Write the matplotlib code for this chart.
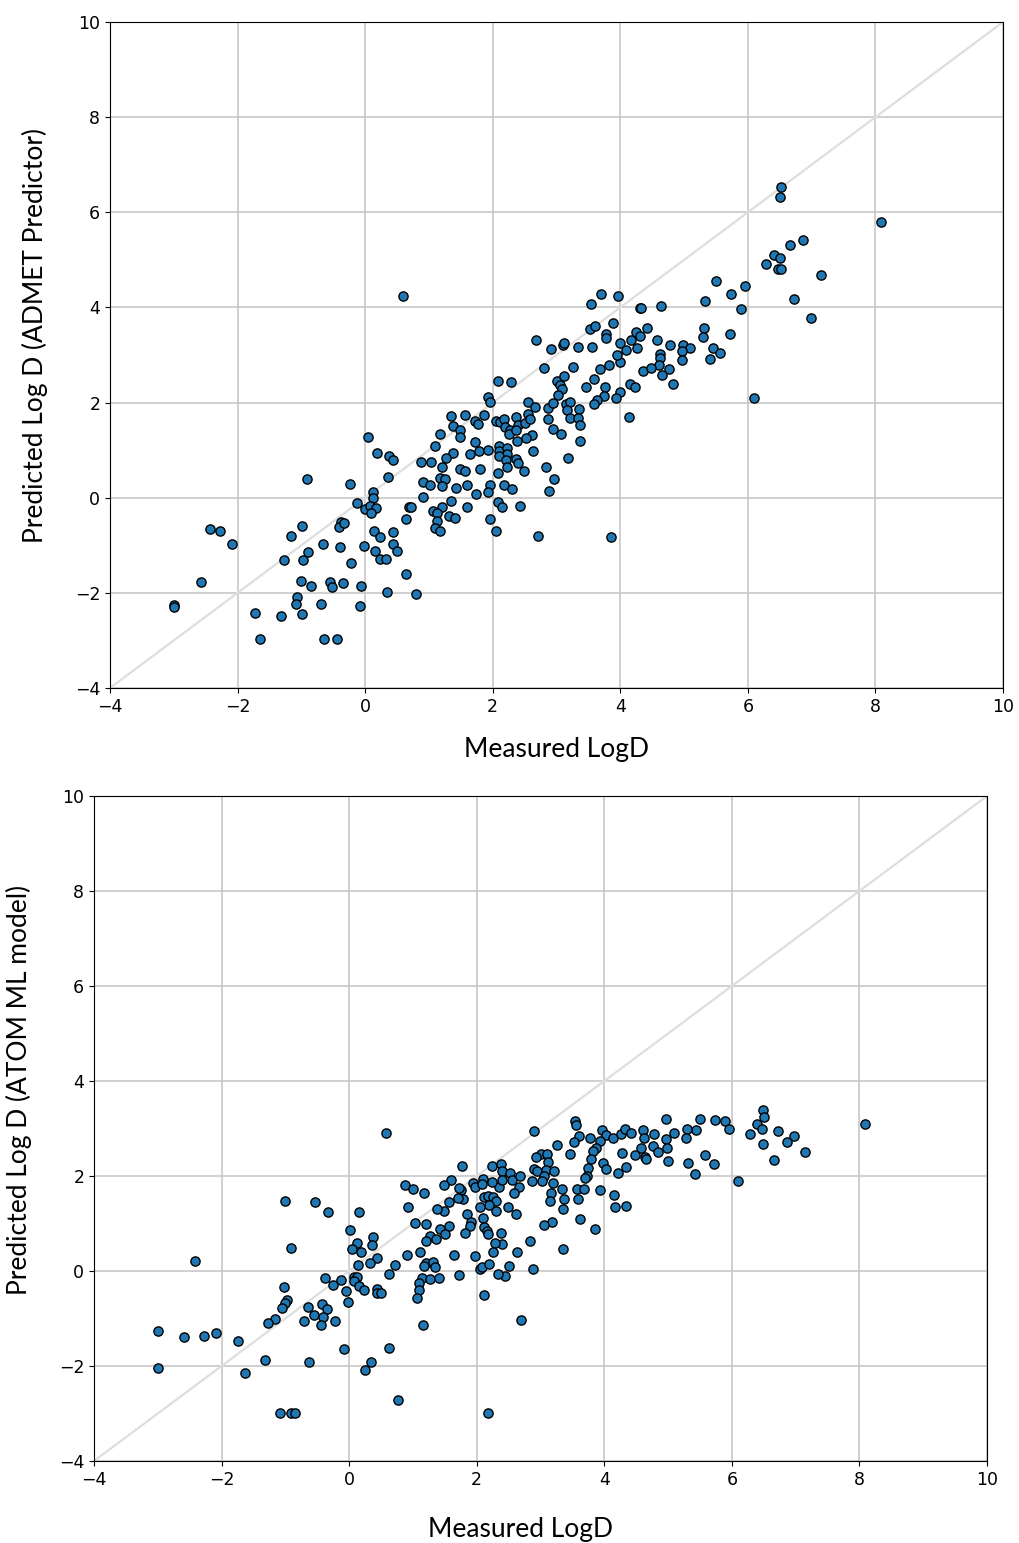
import numpy as np
import matplotlib.pyplot as plt

# Measured vs predicted LogD, ADMET Predictor
admet_measured = [
    0.05, 0.19, 0.37, 0.44, -0.91, -0.24, 0.36, 0.13, 0.13, -0.13, 0.00, 0.07, 0.17, 0.09,
    0.69, 0.64, -2.43, -2.27, -2.08, -0.99, -1.16, -0.38, -0.41, -0.33, -0.66, -0.90, -0.98,
    -1.27, -0.40, -0.02, 0.14, 0.23, 0.43, 0.43, 0.50, 0.16, 0.24, 0.33, -0.22, 0.64, -2.58,
    -1.01, -0.85, -0.55, -0.52, -0.35, -0.06, 0.34, -1.07, -1.09, -0.99, -0.69, -0.08, -3.00,
    -3.00, -1.73, -1.32, -1.65, -0.64, -0.44, 0.79,
    2.81, 3.26, 2.08, 2.29, 3.00, 3.11, 3.06, 3.09, 3.02, 3.46, 3.59, 3.68, 3.83, 3.99, 3.76,
    3.75, 3.63, 3.59, 4.00, 3.93, 4.15, 4.23, 4.35, 4.14, 1.93, 1.95, 2.56, 2.67, 2.87, 2.94,
    3.15, 3.21, 3.16, 3.36, 3.21, 3.34, 3.37, 3.37, 2.87, 2.94, 3.07, 3.18, 2.83, 2.96, 2.89,
    2.71, 3.85, 1.35, 1.57, 1.38, 1.49, 1.49, 1.17, 1.10, 1.73, 1.77, 1.86, 2.05, 2.11, 2.18,
    2.20, 2.27, 2.25, 2.37, 2.39, 2.36, 2.51, 2.56, 2.59, 2.62, 2.52, 2.38, 1.72, 1.64, 1.78,
    1.92, 1.38, 1.26, 1.20, 0.88, 1.04, 2.10, 2.10, 2.22, 2.23, 2.10, 2.21, 2.37, 2.39, 2.23,
    2.49, 2.63, 2.08, 1.49, 1.57, 1.80, 1.17, 1.25, 1.20, 0.90, 1.01, 1.42, 1.59, 1.95, 1.92,
    1.74, 2.18, 2.31, 0.91, 0.72, 1.35, 1.21, 1.06, 1.12, 1.32, 1.41, 1.12, 1.10, 1.17, 1.60,
    2.08, 2.15, 2.43, 1.96, 2.05,
    0.59, 3.54, 3.70, 3.97, 4.31, 3.53, 3.61, 3.88, 3.77, 3.77, 2.68, 2.91, 3.10, 3.12, 3.34,
    3.55, 4.00, 4.17, 4.25, 4.09, 4.26, 3.95,
    6.52, 6.50, 8.09, 6.66, 6.87, 6.41, 6.51, 6.28, 6.48, 6.52, 7.15, 5.50, 5.96, 5.74, 6.73,
    5.33, 4.33, 4.64, 5.89, 6.99, 5.31, 5.29, 5.72, 4.42, 4.31, 4.57, 4.78, 4.98, 5.09, 4.96,
    4.62, 4.63, 4.60, 4.96, 5.45, 5.57, 5.41, 4.48, 4.76, 4.65, 4.83, 6.10,
]
admet_predicted = [
    1.27, 0.95, 0.88, 0.79, 0.39, 0.29, 0.44, 0.11, 0.00, -0.12, -0.24, -0.17, -0.22, -0.33,
    -0.19, -0.45, -0.65, -0.71, -0.97, -0.60, -0.80, -0.50, -0.61, -0.54, -0.97, -1.14, -1.31,
    -1.31, -1.04, -1.02, -0.69, -0.82, -0.72, -0.98, -1.11, -1.11, -1.29, -1.29, -1.38, -1.60,
    -1.77, -1.75, -1.86, -1.77, -1.87, -1.79, -1.86, -1.99, -2.08, -2.24, -2.44, -2.23, -2.28,
    -2.25, -2.30, -2.42, -2.48, -2.98, -2.98, -2.98, -2.03,
    2.72, 2.75, 2.45, 2.43, 2.46, 2.56, 2.37, 2.28, 2.16, 2.33, 2.50, 2.70, 2.78, 2.86, 2.32,
    2.14, 2.05, 1.98, 2.22, 2.09, 2.40, 2.32, 2.67, 1.70, 2.11, 2.01, 2.01, 1.90, 1.89, 2.00,
    1.98, 2.02, 1.84, 1.86, 1.68, 1.68, 1.53, 1.20, 1.65, 1.45, 1.34, 0.83, 0.65, 0.39, 0.15,
    -0.80, -0.82, 1.72, 1.73, 1.51, 1.43, 1.28, 1.34, 1.09, 1.61, 1.56, 1.73, 1.61, 1.59, 1.65,
    1.48, 1.42, 1.34, 1.70, 1.53, 1.42, 1.58, 1.76, 1.66, 1.32, 1.25, 1.19, 1.17, 0.92, 0.99,
    1.00, 0.95, 0.83, 0.65, 0.76, 0.76, 1.09, 0.99, 1.05, 0.92, 0.88, 0.79, 0.81, 0.74, 0.65,
    0.57, 0.98, 0.51, 0.60, 0.57, 0.60, 0.41, 0.40, 0.25, 0.34, 0.27, 0.20, 0.27, 0.27, 0.13,
    0.08, 0.27, 0.18, 0.01, -0.19, -0.07, -0.19, -0.27, -0.32, -0.38, -0.43, -0.49, -0.64, -0.71,
    -0.19, -0.10, -0.19, -0.17, -0.45, -0.71,
    4.25, 4.07, 4.28, 4.25, 3.98, 3.55, 3.62, 3.67, 3.45, 3.36, 3.31, 3.13, 3.20, 3.25, 3.16,
    3.16, 3.26, 3.32, 3.49, 3.10, 3.15, 3.01,
    6.53, 6.33, 5.80, 5.31, 5.41, 5.10, 5.04, 4.91, 4.80, 4.80, 4.68, 4.56, 4.46, 4.28, 4.18,
    4.13, 3.98, 4.03, 3.96, 3.78, 3.57, 3.38, 3.45, 3.57, 3.39, 3.32, 3.21, 3.22, 3.15, 3.08,
    3.02, 2.93, 2.79, 2.89, 3.15, 3.04, 2.91, 2.72, 2.71, 2.58, 2.38, 2.09,
]

# Measured vs predicted LogD, ATOM ML model
atom_measured = [
    0.57, -1.01, -0.53, -0.33, 0.16, -0.91, -2.42, 0.01, 0.38, 0.36, 0.12, 0.05, 0.19, 0.44,
    0.32, 0.14, 0.63, -0.38, -0.13, -0.25, 0.07, 0.13, 0.08, 0.15, 0.23, 0.43, 0.44, 0.50,
    -0.05, -0.02, -1.02, -0.98, -1.00, -1.06, -1.16, -1.27, -0.65, -0.43, -0.34, -0.55, -0.41,
    -0.70, -0.44, -0.22, -3.00, -2.59, -2.28, -2.08, -1.75, -0.08, 0.63, -1.32, -0.63, -3.00,
    -1.64, 0.34, 0.25, -1.08, -0.91, -0.85, 0.77, 2.17,
    2.90, 3.54, 3.56, 3.61, 3.53, 3.77, 3.97, 4.02, 3.94, 4.14, 4.26, 4.33, 3.26, 3.87, 3.82,
    3.79, 3.75, 3.73, 3.69, 3.98, 4.02, 4.28, 4.34, 4.21, 3.46, 3.01, 3.10, 2.93, 3.12, 2.90,
    2.94, 3.08, 3.21, 3.06, 2.86, 3.03, 3.20, 3.33, 3.16, 3.15, 3.37, 3.35, 3.58, 3.68, 3.59,
    3.93, 4.15, 4.17, 4.34, 3.62, 3.86, 3.18, 3.05, 3.36, 2.88, 2.70, 2.84, 2.63, 2.51, 2.44,
    2.34, 2.24, 2.38, 2.39, 2.52, 2.56, 2.68, 2.67, 2.58, 2.35, 2.40, 2.24, 2.10, 1.94, 1.97,
    2.09, 1.77, 1.59, 1.49, 1.75, 1.72, 2.11, 2.17, 2.25, 2.31, 2.19, 2.05, 2.30, 2.49, 2.61,
    1.79, 1.71, 1.57, 1.49, 1.38, 0.88, 1.00, 1.17, 0.92, 1.85, 1.91, 1.90, 2.10, 2.12, 2.16,
    2.18, 1.81, 2.38, 2.39, 2.28, 2.25, 1.04, 1.21, 1.57, 1.43, 1.50, 1.27, 1.36, 1.20, 1.11,
    0.90, 1.64, 1.97, 1.21, 1.31, 1.18, 1.35, 0.72, 1.14, 1.26, 1.41, 1.10, 1.10, 1.07, 1.73,
    2.05, 2.09, 2.19, 2.11, 1.16,
    8.09, 6.49, 6.51, 6.40, 6.48, 6.28, 6.73, 6.98, 6.87, 6.49, 7.15, 6.66, 6.09, 5.50, 5.74,
    5.89, 5.96, 4.96, 5.44, 5.30, 5.28, 5.09, 4.42, 4.61, 4.63, 4.78, 4.96, 4.98, 4.76, 4.84,
    4.57, 4.48, 4.64, 4.65, 5.00, 5.32, 5.58, 5.72, 5.42,
]
atom_predicted = [
    2.91, 1.48, 1.46, 1.24, 1.24, 0.49, 0.22, 0.86, 0.71, 0.55, 0.58, 0.46, 0.41, 0.27,
    0.17, 0.12, -0.07, -0.14, -0.19, -0.29, -0.12, -0.12, -0.20, -0.31, -0.39, -0.37, -0.46,
    -0.46, -0.43, -0.65, -0.33, -0.61, -0.67, -0.78, -1.00, -1.09, -0.75, -0.69, -0.81, -0.92,
    -0.97, -1.06, -1.14, -1.06, -1.26, -1.39, -1.36, -1.31, -1.48, -1.65, -1.63, -1.87, -1.92,
    -2.04, -2.14, -1.92, -2.08, -2.99, -2.99, -2.99, -2.72, -2.98,
    2.95, 3.16, 3.07, 2.84, 2.72, 2.81, 2.97, 2.86, 2.74, 2.79, 2.88, 2.98, 2.65, 2.60, 2.52,
    2.35, 2.16, 1.99, 1.95, 2.28, 2.14, 2.48, 2.18, 2.06, 2.46, 2.47, 2.46, 2.39, 2.30, 2.15,
    2.11, 2.13, 2.11, 2.00, 1.89, 1.89, 1.86, 1.73, 1.64, 1.47, 1.52, 1.30, 1.73, 1.73, 1.51,
    1.71, 1.61, 1.35, 1.37, 1.09, 0.88, 1.03, 0.97, 0.47, 0.05, -1.04, 0.64, 0.41, 0.11, -0.10,
    -0.06, 2.22, 2.25, 2.11, 2.06, 1.92, 2.00, 1.77, 1.64, 1.77, 1.92, 1.88, 1.93, 1.86, 1.77,
    1.83, 2.21, 1.92, 1.82, 1.71, 1.74, 1.55, 1.58, 1.56, 1.48, 1.39, 1.34, 1.27, 1.34, 1.21,
    1.51, 1.53, 1.46, 1.27, 1.31, 1.82, 1.73, 1.65, 1.35, 1.20, 1.03, 0.95, 1.11, 0.93, 0.85,
    0.78, 0.81, 0.81, 0.57, 0.60, 0.41, 1.02, 0.99, 0.95, 0.88, 0.78, 0.74, 0.67, 0.64, 0.39,
    0.34, 0.34, 0.32, 0.17, 0.20, 0.11, 0.09, 0.13, -0.14, -0.17, -0.14, -0.26, -0.41, -0.56, -0.09,
    0.05, 0.08, 0.14, -0.51, -1.14,
    3.09, 3.40, 3.25, 3.09, 3.00, 2.88, 2.94, 2.84, 2.72, 2.67, 2.50, 2.33, 1.89, 3.21, 3.18,
    3.16, 2.99, 3.19, 2.96, 2.99, 2.79, 2.91, 2.91, 2.97, 2.79, 2.88, 2.77, 2.60, 2.63, 2.50,
    2.58, 2.44, 2.41, 2.35, 2.31, 2.28, 2.44, 2.26, 2.04,
]

# (x, y, y label, axes rect, x label pad/pos, y label pad/pos)
panels = [
    (admet_measured, admet_predicted, 'Predicted Log D (ADMET Predictor)',
     [110 / 1020, 855 / 1543, 893 / 1020, 666 / 1543], (15, 0.5), (19, 0.530)),
    (atom_measured, atom_predicted, 'Predicted Log D (ATOM ML model)',
     [94 / 1020, 82 / 1543, 893 / 1020, 665 / 1543], (20.5, 0.478), (19, 0.558)),
]

fig = plt.figure(figsize=(10.2, 15.43), dpi=100)
label_font = dict(family=['Lato', 'DejaVu Sans'], fontsize=19)

for xs, ys, ylabel, rect, (xpad, xpos), (ypad, ypos) in panels:
    ax = fig.add_axes(rect)
    ax.plot([-4, 10], [-4, 10], color='#dedede', lw=1.6, zorder=1)
    ax.scatter(xs, ys, s=44, c='#1f77b4', edgecolors='black', linewidths=1.0, zorder=3)
    ax.set_xlim(-4, 10)
    ax.set_ylim(-4, 10)
    ax.set_xticks(np.arange(-4, 11, 2))
    ax.set_yticks(np.arange(-4, 11, 2))
    ax.grid(True, color='#c4c4c4', lw=1.1)
    ax.set_axisbelow(True)
    ax.tick_params(labelsize=12.5)
    ax.set_xlabel('Measured LogD', labelpad=xpad, x=xpos, **label_font)
    ax.set_ylabel(ylabel, labelpad=ypad, y=ypos, **label_font)

fig.savefig('out.png', dpi=100)
